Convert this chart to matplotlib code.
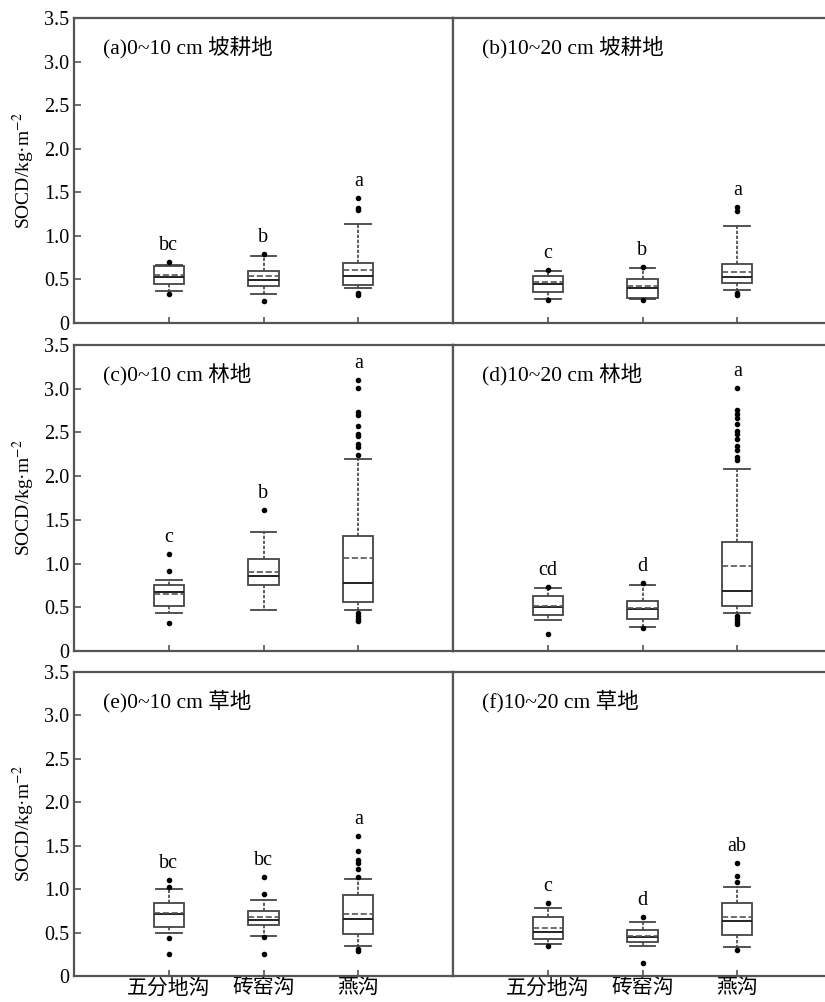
import matplotlib
matplotlib.use("Agg")
import matplotlib.pyplot as plt

plt.rcParams["font.family"] = ["Liberation Serif", "Noto Sans CJK SC"]
plt.rcParams["mathtext.fontset"] = "stix"

sites = ["五分地沟", "砖窑沟", "燕沟"]
titles = ["(a)0~10 cm 坡耕地", "(b)10~20 cm 坡耕地",
          "(c)0~10 cm 林地", "(d)10~20 cm 林地",
          "(e)0~10 cm 草地", "(f)10~20 cm 草地"]
yticks = [0, 0.5, 1.0, 1.5, 2.0, 2.5, 3.0, 3.5]
ytick_labels = ["0", "0.5", "1.0", "1.5", "2.0", "2.5", "3.0", "3.5"]

# one row per panel (a..f), one value per site
q1 = [[0.45, 0.42, 0.44], [0.36, 0.29, 0.455], [0.51, 0.755, 0.565],
      [0.41, 0.37, 0.515], [0.56, 0.59, 0.48], [0.43, 0.395, 0.47]]
q3 = [[0.655, 0.60, 0.685], [0.54, 0.51, 0.68], [0.755, 1.05, 1.315],
      [0.63, 0.575, 1.25], [0.84, 0.75, 0.93], [0.68, 0.53, 0.84]]
med = [[0.53, 0.49, 0.54], [0.45, 0.40, 0.53], [0.67, 0.86, 0.78],
       [0.50, 0.48, 0.69], [0.71, 0.64, 0.66], [0.51, 0.45, 0.63]]
mean = [[0.55, 0.54, 0.61], [0.47, 0.42, 0.59], [0.65, 0.90, 1.06],
        [0.51, 0.49, 0.97], [0.72, 0.68, 0.71], [0.55, 0.46, 0.68]]
whislo = [[0.37, 0.33, 0.40], [0.28, 0.28, 0.38], [0.44, 0.47, 0.47],
          [0.35, 0.28, 0.44], [0.50, 0.46, 0.34], [0.37, 0.34, 0.33]]
whishi = [[0.67, 0.77, 1.14], [0.60, 0.63, 1.11], [0.81, 1.365, 2.20],
          [0.72, 0.75, 2.08], [1.00, 0.875, 1.12], [0.78, 0.625, 1.03]]
fliers = [
    [[0.70, 0.33], [0.79, 0.25], [1.43, 1.32, 1.30, 0.34, 0.32]],
    [[0.61, 0.26], [0.64, 0.26], [1.33, 1.29, 0.35, 0.32]],
    [[1.11, 0.92, 0.32], [1.61],
     [3.10, 3.01, 2.73, 2.70, 2.57, 2.48, 2.46, 2.37, 2.33, 2.24,
      0.43, 0.40, 0.37, 0.34]],
    [[0.73, 0.20], [0.78, 0.26],
     [3.01, 2.76, 2.71, 2.66, 2.60, 2.52, 2.48, 2.42, 2.35, 2.30, 2.22, 2.18,
      0.40, 0.37, 0.33, 0.31]],
    [[1.11, 1.02, 0.44, 0.25], [1.14, 0.94, 0.45, 0.25],
     [1.61, 1.44, 1.33, 1.30, 1.23, 1.14, 0.31, 0.29]],
    [[0.84, 0.34], [0.68, 0.15], [1.30, 1.15, 1.08, 0.30]],
]
letters = [["bc", "b", "a"], ["c", "b", "a"], ["c", "b", "a"],
           ["cd", "d", "a"], ["bc", "bc", "a"], ["c", "d", "ab"]]

W, H = 825, 1002
# axes boxes in pixels: (left, top, bottom)
cols = [74, 453]
rows = [(18, 323), (345, 651), (672, 976)]
ax_w = 379

edge = "#555555"


def main():
    fig = plt.figure(figsize=(W / 100, H / 100), dpi=100)
    positions = [1, 2, 3]
    for i in range(6):
        r, c = divmod(i, 2)
        top, bot = rows[r]
        ax = fig.add_axes([cols[c] / W, 1 - bot / H, ax_w / W, (bot - top) / H])

        stats = []
        for j in range(3):
            stats.append(dict(q1=q1[i][j], q3=q3[i][j], med=med[i][j],
                              mean=mean[i][j], whislo=whislo[i][j],
                              whishi=whishi[i][j], fliers=fliers[i][j]))
        ax.bxp(stats, positions=positions, widths=0.32, capwidths=0.27,
               showmeans=True, meanline=True, patch_artist=True,
               boxprops=dict(facecolor="white", edgecolor="#444444", linewidth=1.3),
               medianprops=dict(color="#222222", linewidth=1.4),
               meanprops=dict(color="#555555", linewidth=1.2, linestyle="--"),
               whiskerprops=dict(color="#444444", linewidth=1.2, linestyle=(0, (2, 1))),
               capprops=dict(color="#444444", linewidth=1.3),
               flierprops=dict(marker="o", markersize=3.0, markerfacecolor="black",
                               markeredgecolor="black"))

        for j in range(3):
            top_val = max([whishi[i][j]] + fliers[i][j])
            ax.text(positions[j], top_val + 0.19, letters[i][j], ha="center",
                    va="center", fontsize=14.5)

        ax.text(0.076, 0.905, titles[i], transform=ax.transAxes, fontsize=15.5,
                ha="left", va="center")

        ax.set_xlim(0, 4)
        ax.set_ylim(0, 3.5)
        ax.set_xticks(positions)
        ax.set_yticks(yticks)
        for s in ax.spines.values():
            s.set_color(edge)
            s.set_linewidth(1.6)
        ax.tick_params(axis="x", direction="in", length=4, color=edge, width=1.2)
        ax.tick_params(axis="y", direction="in", length=5, color=edge, width=1.2)

        if c == 0:
            ax.set_yticklabels(ytick_labels, fontsize=14.5)
            ax.set_ylabel("SOCD/kg·m$^{-2}$", fontsize=14, labelpad=5)
        else:
            ax.tick_params(axis="y", left=False, labelleft=False)

        if r == 2:
            ax.set_xticklabels(sites, fontsize=15)
            ax.tick_params(axis="x", pad=2)
        else:
            ax.tick_params(axis="x", labelbottom=False)

    fig.savefig("out.png", dpi=100)


if __name__ == "__main__":
    main()
